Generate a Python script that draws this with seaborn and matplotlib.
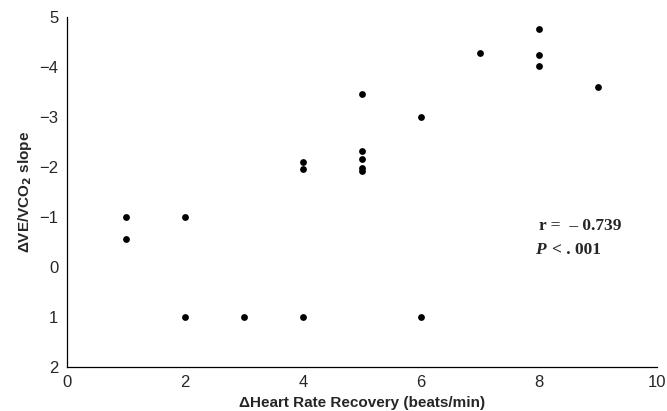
import matplotlib
matplotlib.use("Agg")
import matplotlib.pyplot as plt
import seaborn as sns
import pandas as pd

# data
hrr = [1, 1, 2, 2, 3, 4, 4, 4, 5, 5, 5, 5, 5, 6, 6, 7, 8, 8, 8, 9]
slope = [-1.0, -0.56, -1.0, 1.0, 1.0, -2.09, -1.95, 1.0,
         -3.46, -2.31, -2.15, -1.98, -1.92, -2.99, 1.0,
         -4.27, -4.76, -4.24, -4.02, -3.59]
ytick_vals = [-5, -4, -3, -2, -1, 0, 1, 2]
ytick_labels = ["5", "\u22124", "\u22123", "\u22122", "\u22121", "0", "1", "2"]
xtick_vals = [0, 2, 4, 6, 8, 10]

df = pd.DataFrame({"hrr": hrr, "slope": slope})

sns.set_style("white")
plt.rcParams["font.family"] = ["Liberation Sans", "DejaVu Sans"]

fig = plt.figure(figsize=(6.67, 4.11), dpi=100)
ax = fig.add_axes([0.1, 0.107, 0.885, 0.852])
sns.scatterplot(data=df, x="hrr", y="slope", color="black", s=24,
                edgecolor="black", linewidth=0, ax=ax, legend=False)

ax.set_xlim(0, 10)
ax.set_ylim(2, -5)
ax.set_xticks(xtick_vals)
ax.set_yticks(ytick_vals)
ax.set_yticklabels(ytick_labels)
ax.tick_params(axis="x", direction="in", length=4, labelsize=12, pad=6, width=0.8)
ax.tick_params(axis="y", direction="out", length=4, labelsize=12, pad=2, width=0.8)
sns.despine(ax=ax)
for sp in ["left", "bottom"]:
    ax.spines[sp].set_color("black")
    ax.spines[sp].set_linewidth(0.9)

ax.set_xlabel("\u0394Heart Rate Recovery (beats/min)", fontsize=11, fontweight="bold", labelpad=4)
ax.set_ylabel("\u0394VE/VCO$_\\mathbf{2}$ slope", fontsize=11, fontweight="bold", labelpad=4)

# stats annotation
ax.text(8.0, -0.82, "r =  \u2013 0.739", family="Liberation Serif", fontweight="bold",
        fontsize=12.5, va="center")
ax.text(7.93, -0.34, "P", family="Liberation Serif", fontweight="bold", style="italic",
        fontsize=12.5, va="center")
ax.text(8.22, -0.34, "< . 001", family="Liberation Serif", fontweight="bold",
        fontsize=12.5, va="center")

fig.savefig("out.png", dpi=100)
